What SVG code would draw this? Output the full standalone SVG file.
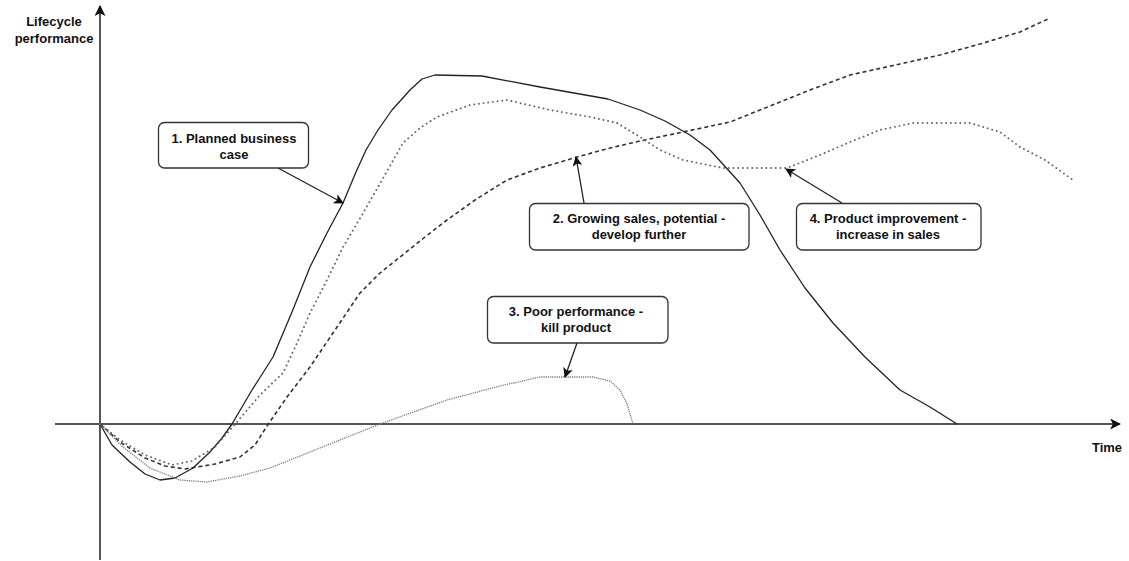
<svg xmlns="http://www.w3.org/2000/svg" width="1129" height="561" viewBox="0 0 1129 561">
  <style>
    .axis { stroke: #555; stroke-width: 2; fill: none; }
    .lbl { font-family: "Liberation Sans", Arial, sans-serif; font-size: 13px; font-weight: bold; fill: #111; text-anchor: middle; }
    .box { fill: #fff; stroke: #333; stroke-width: 1.3; }
    .curve { fill: none; stroke-linejoin: round; stroke-linecap: round; }
    .solid { stroke: #222; stroke-width: 1.3; }
    .dashed { stroke: #333; stroke-width: 1.6; stroke-dasharray: 4 3; stroke-linecap: butt; }
    .dotted { stroke: #666; stroke-width: 1.9; stroke-dasharray: 0.1 4.6; }
    .fine { stroke: #777; stroke-width: 1.3; stroke-dasharray: 1.2 1; stroke-linecap: butt; }
    .link { stroke: #222; stroke-width: 1.3; fill: none; }
  </style>
  <defs>
    <marker id="arrow" viewBox="0 0 10 10" refX="9" refY="5" markerWidth="10" markerHeight="10" markerUnits="userSpaceOnUse" orient="auto">
      <path d="M0,0 L10,5 L0,10 L2.5,5 Z" fill="#111"/>
    </marker>
    <marker id="axisArrow" viewBox="0 0 10 10" refX="9" refY="5" markerWidth="11" markerHeight="11" markerUnits="userSpaceOnUse" orient="auto">
      <path d="M0,0 L10,5 L0,10 L2.5,5 Z" fill="#111"/>
    </marker>
  </defs>

  <rect width="1129" height="561" fill="#fff"/>

  <!-- axes -->
  <g id="axes">
    <line class="axis" x1="100" y1="560" x2="100" y2="6" marker-end="url(#axisArrow)"/>
    <line class="axis" x1="55" y1="424" x2="1120" y2="424" marker-end="url(#axisArrow)"/>
    <text class="lbl" x="54" y="26">Lifecycle</text>
    <text class="lbl" x="54" y="43">performance</text>
    <text class="lbl" x="1107" y="452">Time</text>
  </g>

  <!-- lifecycle curves -->
  <g id="curves">
    <polyline class="curve solid" points="100,424 112,445 130,462 145,474 160,480 175,478 193,468 210,452 222,438 232,424 252,390 273,357 292,312 310,267 327,233 343,203 356,172 366,150 378,130 392,110 410,90 422,79 435,75 482,76 540,87 608,99 640,110 665,121 690,135 710,150 740,183 760,215 780,250 805,288 833,323 865,357 900,390 930,407 957,424"/>
    <polyline class="curve dashed" points="100,424 120,442 145,458 165,466 185,469 215,464 240,457 255,445 267,426 287,397 310,367 335,330 360,293 380,273 400,257 425,237 447,220 475,200 507,180 540,168 577,157 610,148 640,141 683,132 730,122 760,110 785,100 810,90 850,75 900,64 940,55 980,44 1020,32 1050,18"/>
    <polyline class="curve dotted" points="100,424 120,440 145,455 172,465 192,461 215,447 237,422 260,395 283,373 297,343 310,313 327,280 343,247 362,215 382,180 403,143 420,128 437,117 470,105 507,100 550,110 590,117 617,123 640,137 660,150 683,160 723,168 787,168 820,155 850,142 880,130 913,123 970,123 1000,132 1020,147 1045,160 1073,180"/>
    <polyline class="curve fine" points="100,424 123,447 150,468 180,480 207,482 240,476 270,468 320,448 380,424 447,400 500,386 540,377 593,377 610,381 620,390 627,404 633,424"/>
  </g>

  <!-- callout connectors -->
  <g id="connectors">
    <line class="link" x1="278" y1="168" x2="343" y2="203" marker-end="url(#arrow)"/>
    <line class="link" x1="584" y1="203" x2="576" y2="157" marker-end="url(#arrow)"/>
    <line class="link" x1="577" y1="343" x2="565" y2="377" marker-end="url(#arrow)"/>
    <line class="link" x1="842" y1="203" x2="786" y2="169" marker-end="url(#arrow)"/>
  </g>

  <!-- callouts -->
  <g id="note1">
    <rect class="box" x="158.5" y="122.5" width="150" height="45.5" rx="6"/>
    <text class="lbl" x="234" y="143">1. Planned business</text>
    <text class="lbl" x="234" y="159">case</text>
  </g>
  <g id="note2">
    <rect class="box" x="529.5" y="203.5" width="219.5" height="46.5" rx="6"/>
    <text class="lbl" x="639" y="223">2. Growing sales, potential -</text>
    <text class="lbl" x="639" y="239">develop further</text>
  </g>
  <g id="note3">
    <rect class="box" x="487.5" y="296.5" width="180.5" height="46.5" rx="6"/>
    <text class="lbl" x="576" y="316">3. Poor performance -</text>
    <text class="lbl" x="576" y="332">kill product</text>
  </g>
  <g id="note4">
    <rect class="box" x="796.5" y="203.5" width="184.5" height="46.5" rx="6"/>
    <text class="lbl" x="888" y="223">4. Product improvement -</text>
    <text class="lbl" x="888" y="239">increase in sales</text>
  </g>
</svg>
